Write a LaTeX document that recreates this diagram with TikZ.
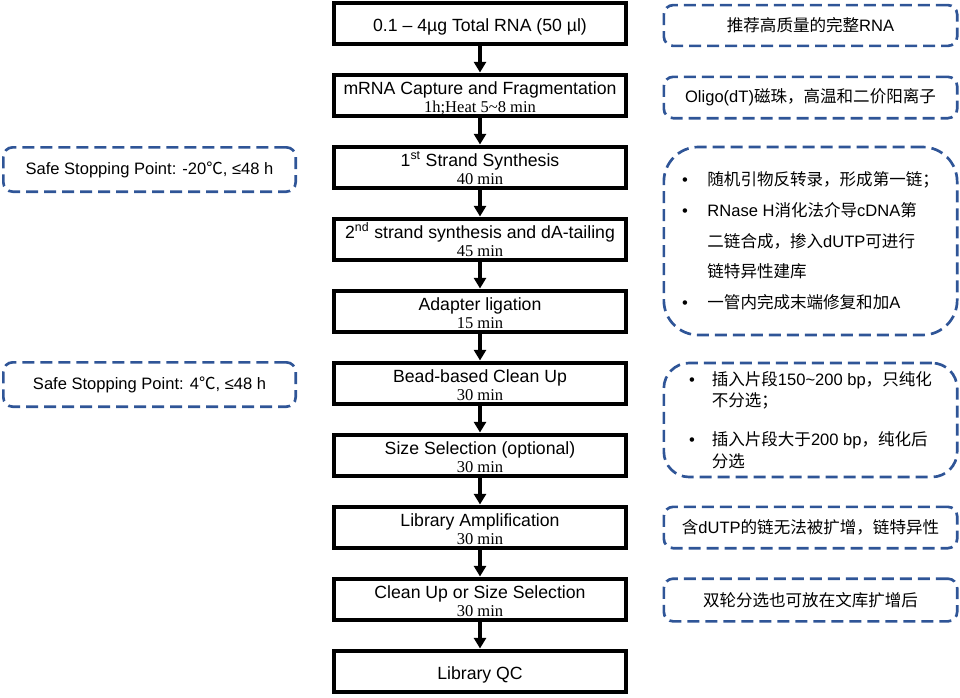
\documentclass[tikz,border=0pt]{standalone}
\usepackage{xcolor}
\usepackage{fontspec}
\setmainfont{Liberation Sans}
\newfontfamily\zhfont{Noto Sans CJK SC}
\newfontfamily\tmfont{Liberation Serif}
\usepackage{tikz}
\usetikzlibrary{arrows.meta,positioning}

\definecolor{noteblue}{HTML}{2F5597}

\newcommand{\zh}[1]{{\zhfont #1}}
\newcommand{\mins}[1]{{\tmfont\fontsize{12.4}{13.5}\selectfont #1}}
\newcommand{\itm}[1][19pt]{\makebox[#1][l]{•}}
\newcommand{\cont}[1][19pt]{\hspace*{#1}}

\begin{document}
\begin{tikzpicture}[
        x=0.75pt, y=-0.75pt,
        every node/.style={font=\fontsize{13.25}{13.5}\selectfont},
        stepbox/.style={
            draw,
            line width=3pt,
            minimum width=219pt,
            minimum height=30.75pt,
            inner sep=0pt,
            align=center,
            text height=13pt,
            text depth=0pt
        },
        twoline/.style={stepbox, text height=25.5pt},
        note/.style={
            draw=noteblue,
            line width=2pt,
            dash pattern=on 9pt off 4.5pt,
            rounded corners=7pt,
            minimum width=220pt,
            minimum height=31pt,
            inner sep=0pt,
            align=center,
            font=\fontsize{12.4}{15}\selectfont
        },
        flow/.style={-{Triangle[length=8pt,width=9pt]}, line width=2.4pt}
    ]
        \useasboundingbox (0,0) rectangle (960,697);

        % main protocol steps
        \node[stepbox] (rna)      at (480,23)  {0.1 – 4µg Total RNA (50 µl)};
        \node[twoline] (capture)  at (480,95)  {mRNA Capture and Fragmentation\\\mins{1h;Heat 5\textasciitilde8 min}};
        \node[twoline] (first)    at (480,167) {1\textsuperscript{st} Strand Synthesis\\\mins{40 min}};
        \node[twoline] (second)   at (480,239) {2\textsuperscript{nd} strand synthesis and dA-tailing\\\mins{45 min}};
        \node[twoline] (adapter)  at (480,311) {Adapter ligation\\\mins{15 min}};
        \node[twoline] (bead)     at (480,383) {Bead-based Clean Up\\\mins{30 min}};
        \node[twoline] (sizesel)  at (480,455) {Size Selection (optional)\\\mins{30 min}};
        \node[twoline] (amp)      at (480,527) {Library Amplification\\\mins{30 min}};
        \node[twoline] (cleanup)  at (480,599) {Clean Up or Size Selection\\\mins{30 min}};
        \node[stepbox] (qc)       at (480,671) {Library QC};

        \draw[flow] (rna) -- (capture);
        \draw[flow] (capture) -- (first);
        \draw[flow] (first) -- (second);
        \draw[flow] (second) -- (adapter);
        \draw[flow] (adapter) -- (bead);
        \draw[flow] (bead) -- (sizesel);
        \draw[flow] (sizesel) -- (amp);
        \draw[flow] (amp) -- (cleanup);
        \draw[flow] (cleanup) -- (qc);

        % notes on the right
        \node[note, minimum height=30.6pt] (n-rna) at (810.5,25.5)
            {\zh{推荐高质量的完整}RNA};
        \node[note] (n-capture) at (810.5,97.5)
            {Oligo(dT)\zh{磁珠，高温和二价阳离子}};
        \node[note, rounded corners=26pt, minimum height=141pt,
              align=left, font=\fontsize{12.4}{23}\selectfont] (n-synth) at (810.5,241)
            {\itm\zh{随机引物反转录，形成第一链；}\\
             \itm RNase H\zh{消化法介导}cDNA\zh{第}\\
             \cont\zh{二链合成，掺入}dUTP\zh{可进行}\\
             \cont\zh{链特异性建库}\\
             \itm\zh{一管内完成末端修复和加}A};
        \node[note, rounded corners=19pt, minimum height=85.5pt,
              align=left, font=\fontsize{12.4}{16.3}\selectfont] (n-bead) at (810.5,420)
            {\itm[17pt]\zh{插入片段}150\textasciitilde200 bp\zh{，只纯化}\\
             \cont[17pt]\zh{不分选；}\\[13pt]
             \itm[17pt]\zh{插入片段大于}200 bp\zh{，纯化后}\\
             \cont[17pt]\zh{分选}};
        \node[note] (n-amp) at (810.5,527.5)
            {\zh{含}dUTP\zh{的链无法被扩增，链特异性}};
        \node[note, minimum height=32pt] (n-cleanup) at (810.5,600)
            {\zh{双轮分选也可放在文库扩增后}};

        % safe stopping points on the left
        \node[note, minimum width=219.25pt, minimum height=33.25pt] (stop-first) at (149.5,169.5)
            {Safe Stopping Point: -20\zh{℃}, ≤48 h};
        \node[note, minimum width=219.25pt, minimum height=33.25pt] (stop-bead) at (149.5,384.5)
            {Safe Stopping Point: 4\zh{℃}, ≤48 h};

    \end{tikzpicture}
\end{document}
